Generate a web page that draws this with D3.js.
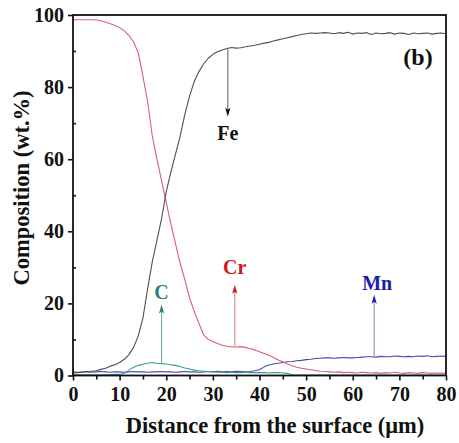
<!DOCTYPE html>
<html>
<head>
<meta charset="utf-8">
<script src="https://cdn.jsdelivr.net/npm/d3@7"></script>
<style>
  html, body { margin: 0; padding: 0; background: #fff; }
  svg { display: block; }
  svg text { font-family: "Liberation Serif", "Times New Roman", serif; font-weight: bold; }
</style>
</head>
<body>
<svg id="chart" width="459" height="443"></svg>
<script>
// Line-scan positions (µm from the surface)
const distance = [0,1,2,3,4,5,6,7,8,9,10,11,12,13,14,15,16,17,18,19,20,
  21,22,23,24,25,26,27,28,29,30,31,32,33,34,35,36,37,38,39,40,
  41,42,43,44,45,46,47,48,49,50,51,52,53,54,55,56,57,58,59,60,
  61,62,63,64,65,66,67,68,69,70,71,72,73,74,75,76,77,78,79,80];

// Composition profiles (wt.%)
const fe = [0.7,0.8,0.9,1.1,1.2,1.3,1.7,2.0,2.6,3.0,3.6,4.5,5.8,7.8,11.0,16.0,24.0,31.5,37.5,43.5,51.0,
  56.5,61.5,66.5,72.5,77.5,81.5,84.3,86.4,88.0,89.1,89.8,90.3,90.7,91.0,90.8,90.9,91.2,91.4,91.6,91.9,
  92.2,92.4,92.8,93.1,93.4,93.7,94.0,94.3,94.6,94.8,95.0,94.9,95.0,95.1,95.0,94.8,95.1,94.9,95.2,94.7,
  95.0,94.9,95.1,94.6,95.0,94.8,94.9,95.1,94.7,95.0,94.9,94.6,95.0,94.8,94.9,95.0,94.7,94.9,95.0,94.8];

const cr = [98.7,98.7,98.7,98.7,98.7,98.6,98.4,98.0,97.6,97.1,96.5,95.6,94.3,92.5,89.5,83.0,76.0,66.5,60.0,54.0,48.0,
  42.0,36.5,31.0,26.5,21.5,17.8,14.5,11.3,10.0,9.4,8.9,8.4,8.1,7.9,7.9,8.0,7.8,7.4,7.1,6.6,
  6.1,5.6,5.0,4.3,3.8,3.2,2.7,2.3,2.0,1.8,1.6,1.4,1.2,1.1,1.0,0.9,1.0,0.8,0.9,0.8,
  0.7,0.9,0.8,0.7,0.8,0.6,0.8,0.7,0.9,0.7,0.6,0.8,0.7,0.6,0.8,0.7,0.6,0.7,0.6,0.7];

const mn = [1.0,0.9,1.0,1.0,0.9,1.0,1.1,1.0,0.9,1.0,1.0,0.9,1.0,1.1,1.0,1.0,0.9,1.0,1.0,1.1,1.0,
  1.0,0.9,1.0,1.1,1.0,1.0,0.9,1.0,1.1,1.0,1.2,1.0,1.1,1.0,1.2,1.1,1.0,1.1,1.3,1.6,
  2.4,2.9,3.2,3.4,3.6,3.8,3.9,4.1,4.2,4.4,4.5,4.7,4.8,4.9,4.9,4.8,4.9,5.0,4.9,4.9,
  5.0,5.1,5.2,5.2,5.1,5.3,5.2,5.2,5.4,5.3,5.2,5.3,5.2,5.4,5.3,5.5,5.2,5.3,5.4,5.3];

const c = [0.2,0.2,0.2,0.2,0.2,0.2,0.2,0.2,0.2,0.3,0.3,0.6,1.5,2.3,2.8,3.1,3.4,3.6,3.4,3.3,3.2,
  3.0,2.8,2.5,2.1,1.8,1.5,1.3,1.2,1.1,1.0,0.9,0.9,0.8,0.9,0.8,0.8,0.9,0.8,0.8,0.8,
  0.8,0.7,0.8,0.8,0.7,0.6,0.2,0.1,0.1,0.1,0.1,0.1,0.1,0.1,0.1,0.1,0.1,0.1,0.1,0.1,
  0.1,0.1,0.1,0.1,0.1,0.1,0.1,0.1,0.1,0.1,0.1,0.1,0.1,0.1,0.1,0.1,0.1,0.1,0.1,0.1];

const series = [
  { name: "Mn", values: mn, color: "#4a4ab6" },
  { name: "C",  values: c,  color: "#3c9a92" },
  { name: "Cr", values: cr, color: "#d8606e" },
  { name: "Fe", values: fe, color: "#505050" }
];

// Element labels with their arrows: arrow runs from the curve (x, from) to the tip (x, to)
const labelNames  = ["Fe", "Cr", "Mn", "C"];
const labelX      = [33.2, 34.7, 64.6, 19.0];
const arrowFrom   = [90.5, 7.9, 5.1, 3.3];
const arrowTo     = [71.8, 25.2, 22.4, 19.7];
const labelY      = [67.3, 30.0, 25.6, 23.3];
const labelColors = ["#111111", "#d41420", "#1c1ca8", "#2a8078"];
const arrowColors = ["#777777", "#e08890", "#9a9ac8", "#7aaeaa"];

const xTicks = [0, 10, 20, 30, 40, 50, 60, 70, 80];
const yTicks = [0, 20, 40, 60, 80, 100];

const FONT = "'Liberation Serif', 'Times New Roman', serif";

const svg = d3.select("#chart");
const margin = { left: 73, right: 13, top: 15, bottom: 67 };
const W = 459, H = 443;

const x = d3.scaleLinear().domain([0, 80]).range([margin.left, W - margin.right]);
const y = d3.scaleLinear().domain([0, 100]).range([H - margin.bottom - 0.5, margin.top]);

// Curves
const line = d3.line()
  .x((d, i) => x(distance[i]))
  .y(d => y(d));

svg.append("g").selectAll("path")
  .data(series)
  .join("path")
  .attr("d", d => line(d.values))
  .attr("fill", "none")
  .attr("stroke", d => d.color)
  .attr("stroke-width", 1.1)
  .attr("stroke-linejoin", "round");

// Axes
const xAxis = d3.axisBottom(x).tickValues(xTicks).tickSize(5).tickPadding(6);
const xMinor = d3.axisBottom(x).tickValues([5, 15, 25, 35, 45, 55, 65, 75]).tickSize(4).tickFormat("");
const yAxis = d3.axisLeft(y).tickValues(yTicks).tickSize(5).tickPadding(4);
const yMinor = d3.axisLeft(y).tickValues([10, 30, 50, 70, 90]).tickSize(-3).tickFormat("");

const gx = svg.append("g").attr("transform", `translate(0,${y(0)})`).call(xAxis);
svg.append("g").attr("transform", `translate(0,${y(0)})`).call(xMinor).select(".domain").remove();
const gy = svg.append("g").attr("transform", `translate(${x(0)},0)`).call(yAxis);
svg.append("g").attr("transform", `translate(${x(0)},0)`).call(yMinor).select(".domain").remove();

[gx, gy].forEach(g => {
  g.attr("font-family", FONT);
  g.select(".domain").remove();
  g.selectAll(".tick text").attr("fill", "#111").style("font-size", "20px");
});
svg.selectAll(".tick line").attr("stroke", "#111").attr("stroke-width", 1.6);

// Frame
svg.append("rect")
  .attr("x", x(0)).attr("y", y(100))
  .attr("width", x(80) - x(0)).attr("height", y(0) - y(100))
  .attr("fill", "none").attr("stroke", "#111").attr("stroke-width", 1.8);

// Arrows
const arrowData = labelNames.map((n, i) => ({
  name: n, x: labelX[i], from: arrowFrom[i], to: arrowTo[i], ly: labelY[i],
  color: labelColors[i], lineColor: arrowColors[i]
}));

const ann = svg.append("g").attr("font-family", FONT);
ann.selectAll("line.arrow")
  .data(arrowData)
  .join("line")
  .attr("class", "arrow")
  .attr("x1", d => x(d.x)).attr("x2", d => x(d.x))
  .attr("y1", d => y(d.from))
  .attr("y2", d => y(d.to) + (d.to > d.from ? 6 : -6))
  .attr("stroke", d => d.lineColor)
  .attr("stroke-width", 1.2);

ann.selectAll("path.head")
  .data(arrowData)
  .join("path")
  .attr("class", "head")
  .attr("d", d => {
    const tx = x(d.x), ty = y(d.to);
    const dir = d.to > d.from ? 1 : -1;   // 1 = pointing up
    const by = ty + dir * 9;
    return `M${tx},${ty} L${tx - 2.6},${by} L${tx},${by - dir * 2} L${tx + 2.6},${by} Z`;
  })
  .attr("fill", d => d.color);

ann.selectAll("text.label")
  .data(arrowData)
  .join("text")
  .attr("class", "label")
  .attr("x", d => x(d.x) + (d.name === "Mn" ? 3 : 0))
  .attr("y", d => y(d.ly))
  .attr("text-anchor", "middle")
  .attr("dominant-baseline", "central")
  .attr("fill", d => d.color)
  .style("font-size", "20px")
  .text(d => d.name);

// Panel tag
svg.append("text")
  .attr("x", 418).attr("y", 57)
  .attr("text-anchor", "middle")
  .attr("dominant-baseline", "central")
  .attr("fill", "#111")
  .style("font-size", "24px")
  .text("(b)");

// Axis titles
svg.append("text")
  .attr("x", 275).attr("y", 433)
  .attr("text-anchor", "middle")
  .attr("fill", "#111")
  .style("font-size", "22.5px")
  .text("Distance from the surface (\u03BCm)");

svg.append("text")
  .attr("transform", "translate(29,188) rotate(-90)")
  .attr("text-anchor", "middle")
  .attr("fill", "#111")
  .style("font-size", "22.5px")
  .text("Composition (wt.%)");
</script>
</body>
</html>
